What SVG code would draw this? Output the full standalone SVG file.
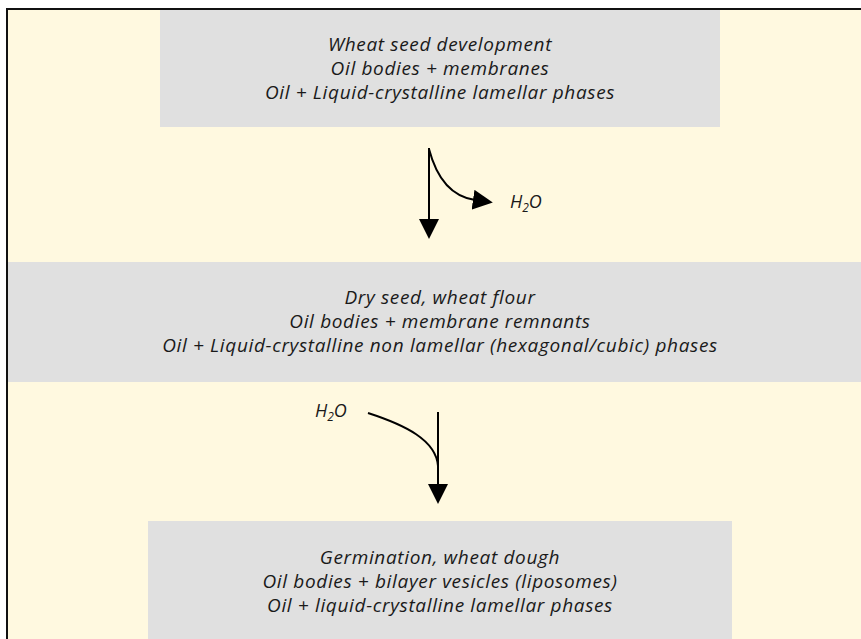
<svg xmlns="http://www.w3.org/2000/svg" width="861" height="639" viewBox="0 0 861 639">
<style>
.box{fill:#e0e0e0;}
.t{font-family:"Open Sans","DejaVu Sans",sans-serif;font-style:italic;font-size:19px;letter-spacing:0.65px;fill:#1a1a1a;text-anchor:middle;}
.h{font-family:"Open Sans","DejaVu Sans",sans-serif;font-style:italic;font-size:18px;fill:#1a1a1a;}
.c{fill:none;stroke:#000;stroke-width:2;}
</style>
<defs>
<marker id="ah" viewBox="0 0 20 20" refX="2" refY="10" markerWidth="20" markerHeight="20" markerUnits="userSpaceOnUse" orient="auto">
<path d="M0,0 L20,10 L0,20 Z" fill="#000"/>
</marker>
</defs>
<rect x="0" y="0" width="861" height="639" fill="#fff"/>
<rect x="7" y="9" width="900" height="700" fill="#fff9e0" stroke="#111" stroke-width="2"/>
<g id="node1">
<rect class="box" x="160" y="10" width="560" height="117"/>
<text class="t" x="440" y="51">Wheat seed development</text>
<text class="t" x="440" y="75">Oil bodies + membranes</text>
<text class="t" x="440" y="99">Oil + Liquid-crystalline lamellar phases</text>
</g>
<g id="node2">
<rect class="box" x="8" y="262" width="853" height="120"/>
<text class="t" x="440" y="304">Dry seed, wheat flour</text>
<text class="t" x="440" y="328">Oil bodies + membrane remnants</text>
<text class="t" x="440" y="352">Oil + Liquid-crystalline non lamellar (hexagonal/cubic) phases</text>
</g>
<g id="node3">
<rect class="box" x="148" y="521" width="584" height="118"/>
<text class="t" x="440" y="564">Germination, wheat dough</text>
<text class="t" x="440" y="588">Oil bodies + bilayer vesicles (liposomes)</text>
<text class="t" x="440" y="612">Oil + liquid-crystalline lamellar phases</text>
</g>
<g id="connectors">
<line class="c" x1="429" y1="148" x2="429" y2="221" marker-end="url(#ah)"/>
<path class="c" d="M429,149 Q441,195 475,200" marker-end="url(#ah)"/>
<path class="c" d="M368,413 C405,425 436,440 438,466"/>
<line class="c" x1="438" y1="412" x2="438" y2="486" marker-end="url(#ah)"/>
</g>
<g id="labels">
<text class="h" x="510" y="208">H<tspan font-size="12" dy="4">2</tspan><tspan dy="-4">O</tspan></text>
<text class="h" x="315" y="417">H<tspan font-size="12" dy="4">2</tspan><tspan dy="-4">O</tspan></text>
</g>
</svg>
